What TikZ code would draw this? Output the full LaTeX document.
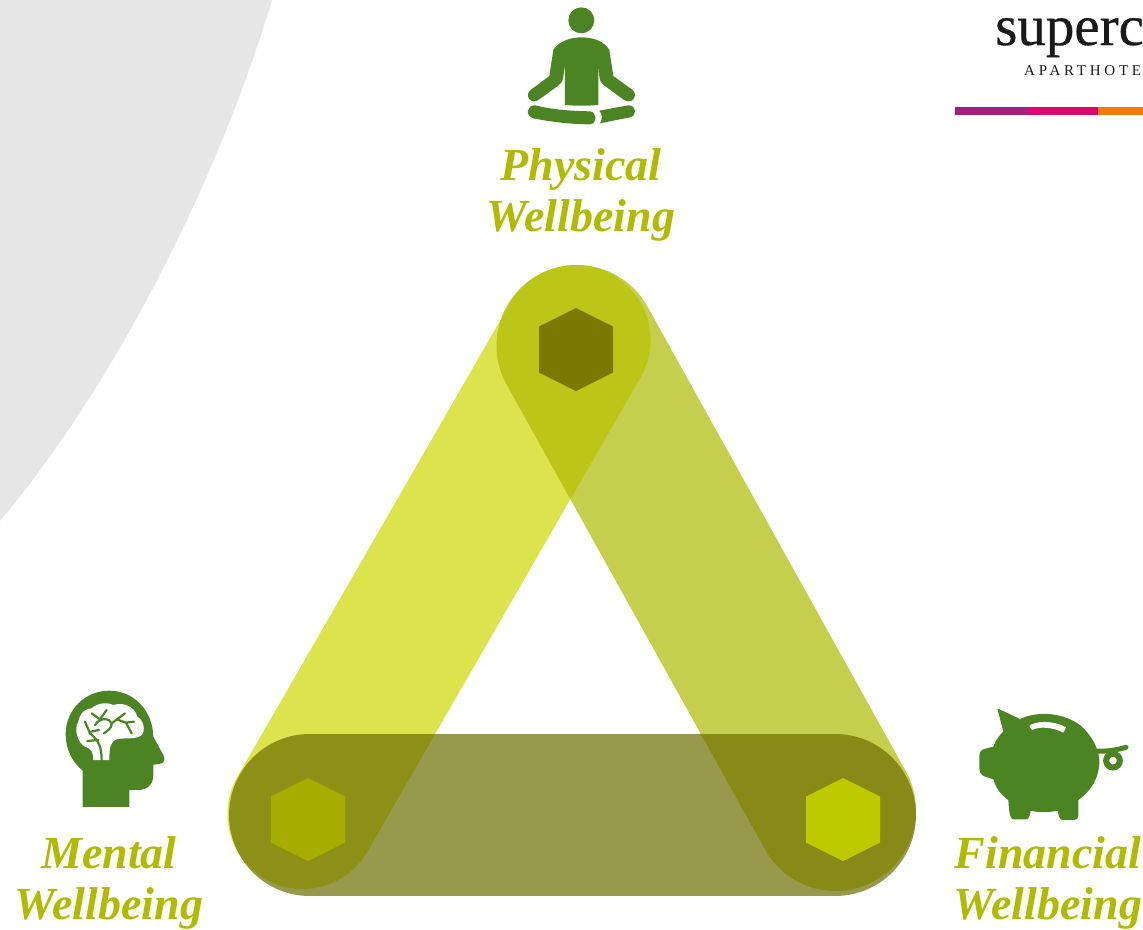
\documentclass[tikz,border=0pt]{standalone}
\usepackage{fontspec}
\setmainfont{Liberation Serif}
\newfontfamily\spacedfont[LetterSpace=25]{Liberation Serif}
\newfontfamily\logofont[FakeBold=0.5]{Liberation Serif}
\pgfdeclarelayer{bg}
\pgfsetlayers{bg,main}
\definecolor{bandleft}{HTML}{CDD802}
\definecolor{bandright}{HTML}{AEB902}
\definecolor{bandbottom}{HTML}{6C6D00}
\definecolor{iconcol}{HTML}{4C8424}
\definecolor{labelcol}{HTML}{B0BA00}
\definecolor{graycol}{HTML}{E6E6E6}
\definecolor{hexphysical}{HTML}{7A7A00}
\definecolor{hexmental}{HTML}{A8AE00}
\definecolor{hexfinancial}{HTML}{BFC900}
\definecolor{barpurple}{HTML}{A0207F}
\definecolor{barpink}{HTML}{E0046F}
\definecolor{barorange}{HTML}{EE7D0E}
\definecolor{logocol}{HTML}{1A1A1A}
\tikzset{
    every node/.style={inner sep=0mm},
    band/.style={line cap=round, opacity=.7},
    caption/.style={align=center, text=labelcol, font=\fontsize{46}{51}\selectfont\bfseries\itshape},
    iconfill/.style={fill=iconcol, draw=none},
    branch/.style={iconcol, line width=2.2pt, line cap=round},
    hexmark/.pic={\path[pic actions] (0,-41.5) -- (37,-23) -- (37,23) -- (0,41.5) -- (-37,23) -- (-37,-23) -- cycle;}
}

\begin{document}
\begin{tikzpicture}[x=1pt, y=-1pt]
        \useasboundingbox (0,0) rectangle (1143,929);
        \clip (0,0) rectangle (1143,929);
        \coordinate (vltop) at (575.5,340);
        \coordinate (vlbot) at (302.5,814);
        \coordinate (vrtop) at (577,345.5);
        \coordinate (vrbot) at (835.5,810.5);
        \coordinate (vbl) at (309.7,815);
        \coordinate (vbr) at (835.3,815);
        \begin{pgfonlayer}{bg}
                \fill[graycol] (0,0) -- (272,0) .. controls (215,190) and (110,390) .. (0,521) -- cycle;
                \draw[band, draw=bandleft, line width=150pt] (vlbot) -- (vltop);
                \draw[band, draw=bandright, line width=161pt] (vrtop) -- (vrbot);
                \draw[band, draw=bandbottom, line width=161.4pt] (vbl) -- (vbr);
        \end{pgfonlayer}
        % hexagons
        \pic [fill=hexphysical] at (576,349.5) {hexmark};
        \pic [fill=hexmental] at (308,819.5) {hexmark};
        \pic [fill=hexfinancial] at (843,819.5) {hexmark};
        % labels
        \node (lphysical) [caption] at (581,195) {Physical\\Wellbeing};
        \node (lmental) [caption] at (109,882.5) {Mental\\Wellbeing};
        \node (lfinancial) [caption] at (1048,882.5) {Financial\\Wellbeing};
        % logo
        \node (logotext) [anchor=base west, text=logocol, font=\fontsize{57}{57}\selectfont\logofont] at (995,45) {superc};
        \node (logosub) [anchor=base west, text=logocol, font=\fontsize{15}{15}\selectfont\spacedfont] at (1024,75) {APARTHOTE};
        \fill[barpurple] (955,107) rectangle (1028,115);
        \fill[barpink] (1028,107) rectangle (1098,115);
        \fill[barorange] (1098,107) rectangle (1143,115);
        % person
        \begin{scope}[shift={(480,0)}, x=.3333pt, y=-.3333pt]
                \fill[iconfill] (304,61) circle (39);
                \fill[iconfill] (220,150) .. controls (235,125) and (270,112) .. (304,112) .. controls (340,112) and (375,125) .. (388,150) -- (400,228) -- (458,270) .. controls (470,280) and (465,295) .. (455,302) .. controls (448,306) and (440,305) .. (432,300) -- (375,258) .. controls (365,250) and (360,245) .. (358,230) -- (355,190) -- (355,315) .. controls (320,318) and (290,318) .. (255,315) -- (255,190) -- (250,230) .. controls (248,245) and (243,250) .. (233,258) -- (175,300) .. controls (165,307) and (155,305) .. (148,297) .. controls (141,288) and (143,277) .. (152,270) -- (208,228) -- cycle;
                \fill[iconfill] (165,316) .. controls (220,330) and (280,333) .. (330,334) .. controls (352,336) and (352,372) .. (330,373) .. controls (270,373) and (210,365) .. (160,355) .. controls (135,348) and (140,315) .. (165,316) -- cycle;
                \fill[iconfill] (358,332) -- (445,316) .. controls (470,315) and (472,348) .. (450,352) -- (360,370) .. controls (368,355) and (368,345) .. (358,332) -- cycle;
        \end{scope}
        % head
        \begin{scope}[shift={(0,680)}, x=.3333pt, y=-.3333pt]
                \fill[iconfill] (248,381) -- (248,272) .. controls (215,245) and (197,205) .. (197,162) .. controls (197,90) and (255,32) .. (328,32) .. controls (400,32) and (458,90) .. (460,170) -- (490,225) .. controls (498,240) and (492,250) .. (478,252) -- (460,254) -- (460,285) .. controls (460,315) and (440,330) .. (415,330) -- (388,330) -- (388,381) -- cycle;
                \fill[white] (235,125) .. controls (240,100) and (255,85) .. (275,85) .. controls (290,70) and (320,65) .. (340,75) .. controls (370,65) and (405,80) .. (412,110) .. controls (430,120) and (438,150) .. (425,165) .. controls (410,180) and (370,172) .. (350,178) .. controls (335,182) and (328,195) .. (328,240) -- (280,240) .. controls (280,220) and (275,205) .. (255,200) .. controls (235,190) and (220,150) .. (235,125) -- cycle;
                \draw[branch] (305,240) .. controls (305,200) and (295,180) .. (270,160) -- (255,125);
                \draw[branch] (295,180) -- (262,183);
                \draw[branch] (272,155) -- (297,150);
                \draw[branch] (275,100) -- (300,118) -- (320,90);
                \draw[branch] (285,135) .. controls (300,110) and (330,115) .. (335,130) .. controls (335,145) and (325,150) .. (312,160);
                \draw[branch] (335,130) -- (375,100);
                \draw[branch] (350,118) -- (378,128) -- (402,125);
                \draw[branch] (378,128) -- (395,160);
        \end{scope}
        % pig
        \begin{scope}[shift={(940,690)}, x=.3333pt, y=-.3333pt]
                \fill[iconfill] (172,55) -- (240,87) .. controls (300,60) and (370,70) .. (420,105) .. controls (460,140) and (480,185) .. (478,220) .. controls (475,270) and (450,305) .. (415,330) -- (415,378) .. controls (415,385) and (410,390) .. (403,390) -- (368,390) .. controls (360,390) and (356,380) .. (353,362) .. controls (325,368) and (295,368) .. (272,362) .. controls (270,380) and (265,388) .. (258,388) -- (222,388) .. controls (212,388) and (208,380) .. (205,330) .. controls (185,315) and (170,300) .. (160,268) -- (130,258) .. controls (122,255) and (118,245) .. (118,235) -- (118,200) .. controls (118,188) and (122,180) .. (132,177) -- (160,170) .. controls (168,150) and (178,135) .. (190,125) -- cycle;
                \fill[white] (268,108) .. controls (285,92) and (340,90) .. (378,112) -- (370,128) .. controls (340,112) and (300,108) .. (276,120) -- cycle;
                \draw[iconcol, line width=6pt] (519,212) circle (20.5);
                \draw[iconcol, line width=5pt, line cap=round] (468,183) .. controls (500,185) and (530,180) .. (558,172);
        \end{scope}
\end{tikzpicture}
\end{document}
